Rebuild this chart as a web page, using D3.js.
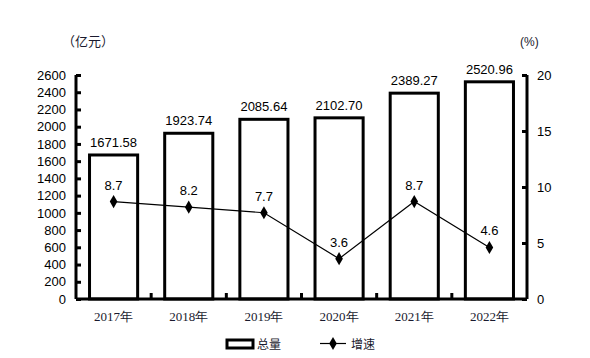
<!DOCTYPE html>
<html><head><meta charset="utf-8">
<script src="https://cdn.jsdelivr.net/npm/d3@7"></script>
<style>body{margin:0;background:#fff}svg{display:block}</style>
</head><body>
<svg id="c" width="590" height="358"></svg>
<script>
const categories = ["2017年","2018年","2019年","2020年","2021年","2022年"];
const totals = [1671.58,1923.74,2085.64,2102.70,2389.27,2520.96];
const growth = [8.7,8.2,7.7,3.6,8.7,4.6];
const leftTicks = [0,200,400,600,800,1000,1200,1400,1600,1800,2000,2200,2400,2600];
const rightTicks = [0,5,10,15,20];

const svg = d3.select("#c");
const L = 76, R = 527, T = 75, B = 299;
const x = d3.scaleBand().domain(categories).range([L, R]).paddingInner(0.32).paddingOuter(0.16);
const xb = d3.scaleBand().domain(categories).range([L, R]);
const y = d3.scaleLinear().domain([0, 2600]).range([B, T]);
const y2 = d3.scaleLinear().domain([0, 20]).range([B, T]);
const sans = "Arial, 'Liberation Sans', sans-serif";
const txtCol = "#1a1a2e";

// bars
svg.append("g").selectAll("rect").data(totals).join("rect")
  .attr("x", (d,i)=>x(categories[i])+1.5)
  .attr("width", x.bandwidth()-3)
  .attr("y", d=>y(d))
  .attr("height", d=>B - y(d))
  .attr("fill","#fff").attr("stroke","#000").attr("stroke-width",3);

// bar labels
svg.append("g").selectAll("text").data(totals).join("text")
  .attr("x",(d,i)=>xb(categories[i])+xb.bandwidth()/2)
  .attr("y",d=>y(d)-8)
  .attr("text-anchor","middle").attr("font-family",sans).attr("font-size",13)
  .attr("fill","#000").text(d=>d.toFixed(2));

// left axis
const gl = svg.append("g").attr("transform",`translate(${L},0)`)
  .call(d3.axisLeft(y).tickValues(leftTicks).tickFormat(d3.format("d")).tickSize(-5).tickPadding(10));
// right axis
const gr = svg.append("g").attr("transform",`translate(${R},0)`)
  .call(d3.axisRight(y2).tickValues(rightTicks).tickFormat(d3.format("d")).tickSize(-5).tickPadding(10));
// bottom axis
const gb = svg.append("g").attr("transform",`translate(0,${B})`)
  .call(d3.axisBottom(xb).tickSize(0).tickPadding(13));
[gl,gr,gb].forEach(g=>{
  g.select(".domain").attr("stroke","#000").attr("stroke-width",3);
  g.selectAll(".tick line").attr("stroke","#000").attr("stroke-width",3);
});
gl.selectAll("text").attr("font-family",sans).attr("font-size",13).attr("fill","#000");
gr.selectAll("text").attr("font-family",sans).attr("font-size",13).attr("fill","#000");
gb.selectAll("text").attr("font-family","'Liberation Serif', 'Times New Roman', serif").attr("font-size",13).attr("fill",txtCol);
gl.select(".domain").attr("d",`M0,${T}V${B}`);
gr.select(".domain").attr("d",`M0,${T}V${B}`);
gb.select(".domain").attr("d",`M${L},0H${R}`);
// category separators on bottom axis
svg.append("g").selectAll("line").data(categories.slice(1)).join("line")
  .attr("x1",d=>xb(d)).attr("x2",d=>xb(d)).attr("y1",B).attr("y2",B-6)
  .attr("stroke","#000").attr("stroke-width",3);

// growth line
const line = d3.line().x((d,i)=>xb(categories[i])+xb.bandwidth()/2).y(d=>y2(d));
svg.append("path").datum(growth).attr("d",line).attr("fill","none").attr("stroke","#000").attr("stroke-width",1.2);
const diamond = d3.symbol().type(d3.symbolDiamond).size(50);
svg.append("g").selectAll("path").data(growth).join("path")
  .attr("transform",(d,i)=>`translate(${xb(categories[i])+xb.bandwidth()/2},${y2(d)})`)
  .attr("d",diamond).attr("fill","#000");
svg.append("g").selectAll("text").data(growth).join("text")
  .attr("x",(d,i)=>xb(categories[i])+xb.bandwidth()/2)
  .attr("y",d=>y2(d)-12)
  .attr("text-anchor","middle").attr("font-family",sans).attr("font-size",13)
  .attr("fill","#000").text(d=>d.toFixed(1));

// units
svg.append("text").attr("x",62).attr("y",46).attr("font-family","'Noto Sans CJK SC', sans-serif")
  .attr("font-size",13).attr("fill",txtCol).text("（亿元）");
svg.append("text").attr("x",520).attr("y",46).attr("font-family",sans)
  .attr("font-size",12).attr("fill",txtCol).text("(%)");

// legend
svg.append("rect").attr("x",227).attr("y",340).attr("width",26).attr("height",8)
  .attr("fill","#fff").attr("stroke","#000").attr("stroke-width",3);
svg.append("text").attr("x",257).attr("y",349).attr("font-family","'Noto Sans CJK SC', sans-serif")
  .attr("font-size",12).attr("fill",txtCol).text("总量");
svg.append("line").attr("x1",320).attr("x2",346).attr("y1",343.5).attr("y2",343.5).attr("stroke","#000").attr("stroke-width",1.2);
svg.append("path").attr("transform","translate(333,343.5)").attr("d",diamond).attr("fill","#000");
svg.append("text").attr("x",351).attr("y",349).attr("font-family","'Noto Sans CJK SC', sans-serif")
  .attr("font-size",12).attr("fill",txtCol).text("增速");
</script>
</body></html>
